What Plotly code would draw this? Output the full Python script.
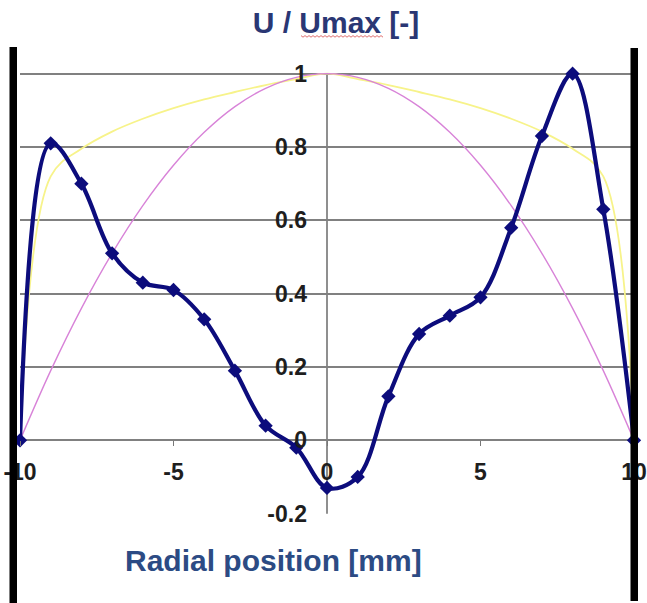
import plotly.graph_objects as go

# ---- data ----
x_meas = [-10, -9, -8, -7, -6, -5, -4, -3, -2, -1, 0, 1, 2, 3, 4, 5, 6, 7, 8, 9, 10]
u_meas = [0.0, 0.81, 0.70, 0.51, 0.43, 0.41, 0.33, 0.19, 0.04, -0.02, -0.13,
          -0.10, 0.12, 0.29, 0.34, 0.39, 0.58, 0.83, 1.0, 0.63, 0.0]

x_ref = [-10, -9, -8, -7, -6, -5, -4, -3, -2, -1, 0, 1, 2, 3, 4, 5, 6, 7, 8, 9, 10]
u_turb = [0.0, 0.72, 0.795, 0.842, 0.877, 0.906, 0.93, 0.95, 0.969, 0.985, 1.0,
          0.985, 0.969, 0.95, 0.93, 0.906, 0.877, 0.842, 0.795, 0.72, 0.0]
u_lam = [0.0, 0.19, 0.36, 0.51, 0.64, 0.75, 0.84, 0.91, 0.96, 0.99, 1.0,
         0.99, 0.96, 0.91, 0.84, 0.75, 0.64, 0.51, 0.36, 0.19, 0.0]

x_ticks = [-10, -5, 0, 5, 10]
x_tick_text = ["-10", "-5", "0", "5", "10"]
y_ticks = [-0.2, 0, 0.2, 0.4, 0.6, 0.8, 1]
y_tick_text = ["-0.2", "0", "0.2", "0.4", "0.6", "0.8", "1"]

title_text = "U / Umax [-]"
xtitle_text = "Radial position [mm]"

# ---- layout geometry ----
W, H = 647, 603
ml, mr, mt, mb = 20, 13, 37, 89
x_range = [-10, 10]
y_range = [-0.201, 1.1]
FONT = "Arial, 'Liberation Sans', sans-serif"

fig = go.Figure()
fig.add_trace(go.Scatter(x=x_ref, y=u_turb, mode="lines",
                         line=dict(color="#f7f38a", width=1.8, shape="spline", smoothing=1.0),
                         hoverinfo="skip"))
fig.add_trace(go.Scatter(x=x_ref, y=u_lam, mode="lines",
                         line=dict(color="#d883d8", width=1.4, shape="spline", smoothing=1.0),
                         hoverinfo="skip"))
fig.add_trace(go.Scatter(x=x_meas, y=u_meas, mode="lines+markers",
                         line=dict(color="#0c0c7c", width=4.2, shape="spline", smoothing=1.0),
                         marker=dict(symbol="diamond", size=11, color="#0c0c7c"),
                         cliponaxis=False))

ypos0 = (0 - y_range[0]) / (y_range[1] - y_range[0])
xpos0 = (0 - x_range[0]) / (x_range[1] - x_range[0])

fig.update_layout(
    width=W, height=H,
    margin=dict(l=ml, r=mr, t=mt, b=mb, autoexpand=False),
    paper_bgcolor="white", plot_bgcolor="white",
    showlegend=False,
    title=dict(text=f"<b>{title_text}</b>", x=(336 - ml) / (W - ml - mr), xanchor="center",
               xref="paper", yref="container", y=1 - 22 / H, yanchor="middle",
               font=dict(family=FONT, size=30, color="#2a3774")),
    xaxis=dict(range=x_range, anchor="free", position=ypos0, automargin=False,
               tickvals=x_ticks, ticktext=x_tick_text,
               ticks="outside", ticklen=5, tickcolor="#777", tickwidth=1,
               ticklabelstandoff=6,
               tickfont=dict(family=FONT, size=23, color="#1e1e1e", weight="bold"),
               showgrid=False, zeroline=False, showline=False),
    yaxis=dict(range=y_range, anchor="free", position=xpos0, automargin=False,
               tickvals=y_ticks, ticktext=y_tick_text,
               ticks="", ticklabelstandoff=20,
               tickfont=dict(family=FONT, size=23, color="#1e1e1e", weight="bold"),
               showgrid=True, gridcolor="#808080", gridwidth=2,
               zeroline=False, showline=False),
)

# vertical axis line at x = 0 from -0.2 to 1
fig.add_shape(type="line", xref="x", yref="y", x0=0, x1=0, y0=y_ticks[0], y1=y_ticks[-1],
              line=dict(color="#6a6a6a", width=1.5), layer="below")

# x-axis title
pw = W - ml - mr
ph = H - mt - mb
fig.add_annotation(text=f"<b>{xtitle_text}</b>", xref="paper", yref="paper",
                   x=(273 - ml) / pw, y=-(560 - (H - mb)) / ph, showarrow=False,
                   xanchor="center", yanchor="middle",
                   font=dict(family=FONT, size=30, color="#2c4b84"))

# thick black bars at the sides (slide frame)
def px_x(p):
    return (p - ml) / pw
def px_y(p):
    return (H - mb - p) / ph

fig.add_shape(type="rect", xref="paper", yref="paper",
              x0=px_x(9.5), x1=px_x(17), y0=px_y(47), y1=px_y(603),
              fillcolor="black", line=dict(width=0), layer="above")
fig.add_shape(type="rect", xref="paper", yref="paper",
              x0=px_x(630.5), x1=px_x(638), y0=px_y(48), y1=px_y(601),
              fillcolor="black", line=dict(width=0), layer="above")

# red spell-check squiggle under "Umax"
zx = []
zy = []
xs = 301
i = 0
while xs <= 383:
    zx.append(px_x(xs))
    zy.append(px_y(36 + (1.2 if i % 2 else -0.4)))
    xs += 2
    i += 1
path = "M " + " L ".join(f"{a},{b}" for a, b in zip(zx, zy))
fig.add_shape(type="path", xref="paper", yref="paper", path=path,
              line=dict(color="#e07070", width=1), layer="above")

fig.write_html("out.html")
